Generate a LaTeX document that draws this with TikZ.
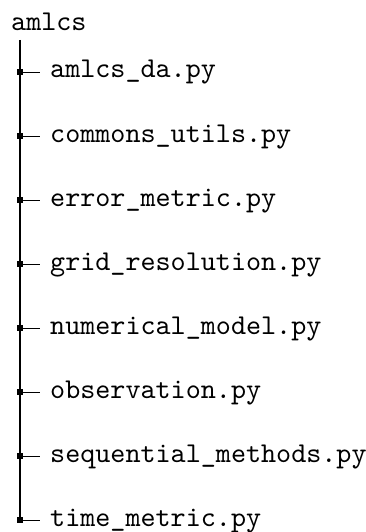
\documentclass[tikz,border=0pt]{standalone}
\usepackage{fontspec}
\setmonofont{lmmono10-regular.otf}
\begin{document}
\begin{tikzpicture}[x=1pt,y=-1pt,
  entry/.style={anchor=base west, inner sep=0pt, font=\fontsize{28.7}{32}\selectfont\ttfamily},
  trunk/.style={line width=2pt},
  twig/.style={line width=0.8pt},
  knot/.style={fill=black}]
\useasboundingbox (0,0) rectangle (366,532);
% root folder
\node[entry] (root) at (11,31) {amlcs};
\coordinate (top) at (20,40);
% files of the folder
\foreach \i/\name in {0/amlcs\_da.py,1/commons\_utils.py,2/error\_metric.py,
  3/grid\_resolution.py,4/numerical\_model.py,5/observation.py,
  6/sequential\_methods.py,7/time\_metric.py}{
  \coordinate (j\i) at (20,72+64*\i);
  \node[entry] (f\i) at (50,78+64*\i) {\name};
  \draw[twig] (j\i) -- ([xshift=-10pt]f\i.west |- j\i);
  \fill[knot] ([shift={(-3,-3)}]j\i) rectangle ([shift={(3,3)}]j\i);
}
\draw[trunk] (top) -- (j7);
\end{tikzpicture}
\end{document}
